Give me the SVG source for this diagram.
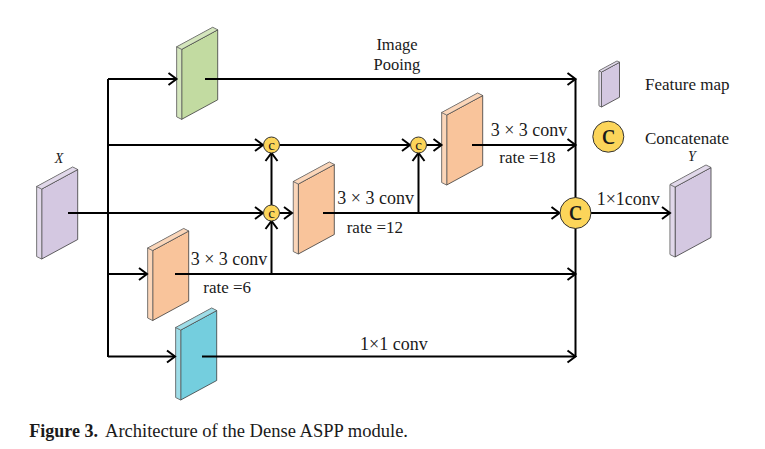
<svg xmlns="http://www.w3.org/2000/svg" xmlns:xlink="http://www.w3.org/1999/xlink" width="765" height="449" viewBox="0 0 765 449">
<style>
.lbl{font-family:"Liberation Serif","Times New Roman",serif;fill:#1a1a1a}
.conv{font-size:18px}
.rate{font-size:17px}
.it{font-style:italic;font-size:14px}
.purple{fill:#D4C8E1;stroke:#3a3a3a;stroke-width:0.8}
.green{fill:#C2DBA1;stroke:#3a3a3a;stroke-width:0.8}
.orange{fill:#F9C49B;stroke:#3a3a3a;stroke-width:0.8}
.cyan{fill:#74CEDE;stroke:#3a3a3a;stroke-width:0.8}
.cc{fill:#FCD55A;stroke:#333;stroke-width:1}
.ln{fill:none;stroke:#000;stroke-width:2}
.ar{marker-end:url(#ah)}
.sc{font-size:15px}
</style>
<defs>
<marker id="ah" markerUnits="userSpaceOnUse" markerWidth="12" markerHeight="16" viewBox="0 0 12 16" refX="10" refY="8" orient="auto">
<path d="M2,2 L10,8 L2,14" fill="none" stroke="#000" stroke-width="2"/>
</marker>
<g id="slab">
<polygon points="0,0 36,-19.5 36,50.5 0,70"/>
<polygon points="-5,-2.5 0,0 0,70 -5,67.5"/>
<polygon points="-5,-2.5 31,-22 36,-19.5 0,0"/>
<polygon points="-5,-2.5 0,0 0,70 -5,67.5" fill="#fff" fill-opacity="0.3" stroke="none"/>
<polygon points="-5,-2.5 31,-22 36,-19.5 0,0" fill="#fff" fill-opacity="0.3" stroke="none"/>
</g>
</defs>
<rect width="765" height="449" fill="#fff"/>

<g id="node-x">
<use xlink:href="#slab" href="#slab" x="41.7" y="189" class="purple"/>
<text class="lbl it" x="59" y="163" text-anchor="middle">X</text>
</g>
<g id="node-pool">
<use xlink:href="#slab" href="#slab" x="181.7" y="49.3" class="green"/>
</g>
<g id="node-conv6">
<use xlink:href="#slab" href="#slab" x="152.7" y="250.5" class="orange"/>
</g>
<g id="node-conv12">
<use xlink:href="#slab" href="#slab" x="298.3" y="184" class="orange"/>
</g>
<g id="node-conv18">
<use xlink:href="#slab" href="#slab" x="446.7" y="115" class="orange"/>
</g>
<g id="node-conv1">
<use xlink:href="#slab" href="#slab" x="180.7" y="330" class="cyan"/>
</g>
<g id="node-y">
<use xlink:href="#slab" href="#slab" x="675" y="187" class="purple"/>
<text class="lbl it" x="692" y="161" text-anchor="middle">Y</text>
</g>

<g id="connectors">
<path class="ln" d="M108,79 V357"/>
<path class="ln" d="M575.5,79 V357"/>
<path class="ln ar" d="M108,79 H176.5"/>
<path class="ln ar" d="M205,79 H575.5"/>
<path class="ln ar" d="M108,145 H263"/>
<path class="ln ar" d="M280,145 H410"/>
<path class="ln ar" d="M426.5,145 H441.5"/>
<path class="ln ar" d="M472,145 H575.5"/>
<path class="ln ar" d="M68,213 H263"/>
<path class="ln ar" d="M280,213 H292"/>
<path class="ln ar" d="M323,213 H559.5"/>
<path class="ln ar" d="M418.5,213 V153"/>
<path class="ln ar" d="M271.5,205 V153"/>
<path class="ln ar" d="M271.5,274 V221"/>
<path class="ln ar" d="M108,274 H147"/>
<path class="ln ar" d="M175,274 H575.5"/>
<path class="ln ar" d="M108,356.5 H175"/>
<path class="ln ar" d="M202,356.5 H575.5"/>
<path class="ln ar" d="M590.5,213 H670"/>
</g>

<g id="concat-1">
<circle class="cc" cx="271.5" cy="145" r="8"/>
<text class="lbl sc" x="271.5" y="149.5" text-anchor="middle">c</text>
</g>
<g id="concat-2">
<circle class="cc" cx="271.5" cy="213" r="8"/>
<text class="lbl sc" x="271.5" y="217.5" text-anchor="middle">c</text>
</g>
<g id="concat-3">
<circle class="cc" cx="418.5" cy="145" r="8"/>
<text class="lbl sc" x="418.5" y="149.5" text-anchor="middle">c</text>
</g>
<g id="concat-main">
<circle class="cc" cx="575.5" cy="213" r="15.5"/>
<text class="lbl" x="575.5" y="220" font-size="30" text-anchor="middle">c</text>
</g>

<g id="labels">
<text class="lbl" x="397" y="50" font-size="16.5" text-anchor="middle">Image</text>
<text class="lbl" x="397" y="70" font-size="16.5" text-anchor="middle">Pooing</text>
<text class="lbl conv" x="490.7" y="135.7">3<tspan dx="4.5">×</tspan><tspan dx="4.5">3</tspan> conv</text>
<text class="lbl rate" x="499.3" y="162.5">rate =18</text>
<text class="lbl conv" x="337.3" y="204">3<tspan dx="4.5">×</tspan><tspan dx="4.5">3</tspan> conv</text>
<text class="lbl rate" x="346.7" y="233">rate =12</text>
<text class="lbl conv" x="190.7" y="265">3<tspan dx="4.5">×</tspan><tspan dx="4.5">3</tspan> conv</text>
<text class="lbl rate" x="203.3" y="293">rate =6</text>
<text class="lbl conv" x="360" y="350">1×1 conv</text>
<text class="lbl conv" x="596.7" y="205">1×1conv</text>
</g>

<g id="legend">
<use xlink:href="#slab" href="#slab" transform="translate(601.5,72) scale(0.5)" class="purple" style="stroke-width:1.6"/>
<text class="lbl" x="645" y="90" font-size="17">Feature map</text>
<circle class="cc" cx="608.3" cy="136.7" r="15.5"/>
<text class="lbl" x="608.3" y="143.7" font-size="30" text-anchor="middle">c</text>
<text class="lbl" x="645" y="144.3" font-size="17">Concatenate</text>
</g>

<g id="caption">
<text class="lbl" x="29.3" y="436.7" font-size="18" font-weight="bold">Figure 3.</text>
<text class="lbl" x="105" y="436.7" font-size="18" textLength="303" lengthAdjust="spacingAndGlyphs">Architecture of the Dense ASPP module.</text>
</g>
</svg>
